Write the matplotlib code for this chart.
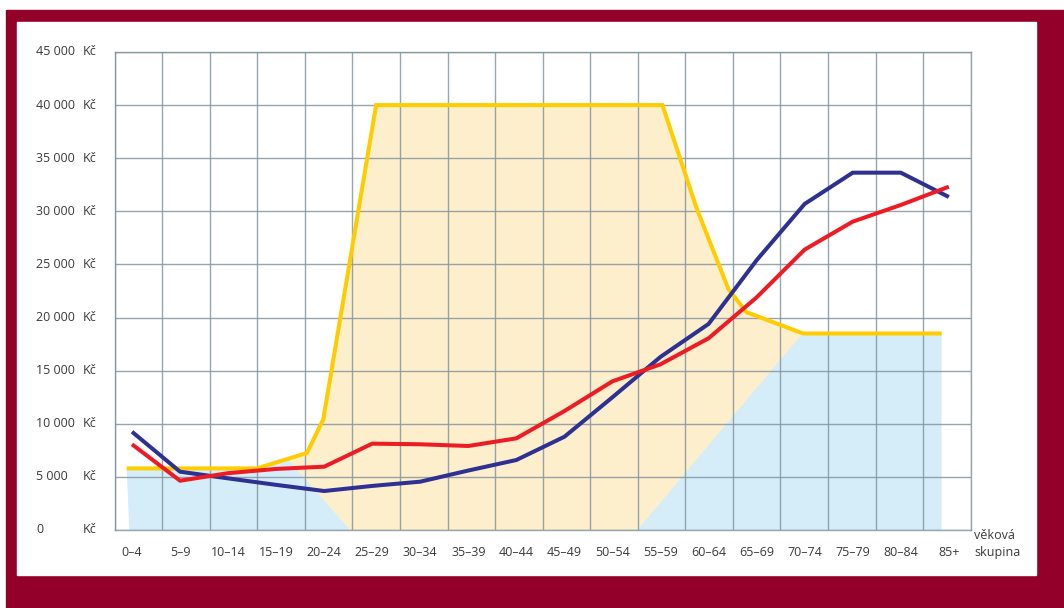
import numpy as np
import matplotlib.pyplot as plt
from matplotlib.patches import Polygon, Rectangle
from matplotlib.transforms import blended_transform_factory, offset_copy

plt.rcParams['font.family'] = ['Open Sans', 'DejaVu Sans']

# vekove skupiny a hodnoty (Kc)
skupiny = ['0–4', '5–9', '10–14', '15–19', '20–24', '25–29', '30–34', '35–39',
           '40–44', '45–49', '50–54', '55–59', '60–64', '65–69', '70–74',
           '75–79', '80–84', '85+']
modra = [9250, 5490, 4860, 4250, 3670, 4150, 4550, 5600, 6590, 8780,
         12500, 16300, 19400, 25400, 30700, 33640, 33640, 31350]
cervena = [8070, 4640, 5350, 5750, 5960, 8130, 8070, 7910, 8630, 11200,
           14000, 15600, 18050, 21900, 26400, 29030, 30600, 32320]
# zluta krivka neni v bodech skupin -> poloha v jednotkach skupin
limit_x = [-0.11, 2.60, 3.64, 3.98, 5.08, 11.04, 11.75, 12.41, 12.79, 13.97, 16.85]
limit_kc = [5800, 5800, 7250, 10400, 40000, 40000, 30300, 22700, 20500, 18500, 18500]

y_ticks = list(range(0, 45001, 5000))
y_labels = [f'{v:,}'.replace(',', ' ') for v in y_ticks]

# zluty pas (sikme hrany)
pas_l, pas_r = 4.537, 10.516
k_l, k_r = 5157, 5383

W, H = 1064, 608
bordo = '#930029'
sv_modra = '#d4edf9'
sv_zluta = '#feefcc'
mrizka = '#8595a0'
txt = '#3a3a3a'

fig = plt.figure(figsize=(W / 100, H / 100), dpi=100)
fig.patches.append(Rectangle((6 / W, 0), 1 - 6 / W, 1 - 10 / H,
                             transform=fig.transFigure, color=bordo, zorder=-10))
fig.patches.append(Rectangle((16.7 / W, 1 - 575 / H), (1035.7 - 16.7) / W, (575 - 22) / H,
                             transform=fig.transFigure, color='white', zorder=-9))

ax = fig.add_axes([114.7 / W, 1 - 530 / H, (970.7 - 114.7) / W, (530 - 52) / H])
x0, x1 = -0.36, 17.455
ax.set_xlim(x0, x1)
ax.set_ylim(0, 45000)

ax.set_yticks(y_ticks)
ax.set_xticks([])
ax.set_xticks(np.linspace(x0, x1, 19), minor=True)
ax.set_axisbelow(False)
ax.grid(axis='y', which='major', color=mrizka, lw=1.0, alpha=0.85, zorder=2)
ax.grid(axis='x', which='minor', color=mrizka, lw=1.0, alpha=0.85, zorder=2)
ax.tick_params(which='both', length=0, labelleft=False, labelbottom=False)
for s in ax.spines.values():
    s.set_color(mrizka)
    s.set_linewidth(1.0)
    s.set_alpha(0.85)

# vyplne
bx = [-0.056] + limit_x + [limit_x[-1]]
by = [0] + limit_kc + [0]
ax.fill(bx, by, color=sv_modra, lw=0, zorder=1)
zf = ax.fill(bx, by, color=sv_zluta, lw=0, zorder=1.1)[0]
clip = Polygon([(pas_l, 0), (pas_r, 0), (pas_r + 45000 / k_r, 45000),
                (pas_l - 45000 / k_l, 45000)], closed=True, transform=ax.transData)
zf.set_clip_path(clip)

x = np.arange(len(skupiny))
ax.plot(limit_x, limit_kc, color='#ffcc00', lw=2.9, solid_joinstyle='miter',
        solid_capstyle='butt', zorder=3)
ax.plot(x, modra, color='#2e3192', lw=2.9, solid_joinstyle='miter',
        solid_capstyle='butt', zorder=4)
ax.plot(x, cervena, color='#ed1c24', lw=2.9, solid_joinstyle='miter',
        solid_capstyle='butt', zorder=5)

# popisky osy y
tr_y = offset_copy(blended_transform_factory(fig.transFigure, ax.transData),
                   fig=fig, y=-2.5, units='points')
for v, lab in zip(y_ticks, y_labels):
    ax.text(36 / W, v, lab, transform=tr_y, ha='left', va='baseline',
            fontsize=9, color=txt)
    ax.text(82.7 / W, v, 'Kč', transform=tr_y, ha='left', va='baseline',
            fontsize=9, color=txt)

# popisky osy x
tr_x = blended_transform_factory(ax.transData, fig.transFigure)
for i, lab in enumerate(skupiny):
    ax.text(i, 1 - 556 / H, lab, transform=tr_x, ha='center', va='baseline',
            fontsize=9, color=txt)
fig.text(974 / W, 1 - 539.3 / H, 'věková', ha='left', va='baseline', fontsize=9, color=txt)
fig.text(974 / W, 1 - 556 / H, 'skupina', ha='left', va='baseline', fontsize=9, color=txt)

fig.savefig('out.png', dpi=100)
